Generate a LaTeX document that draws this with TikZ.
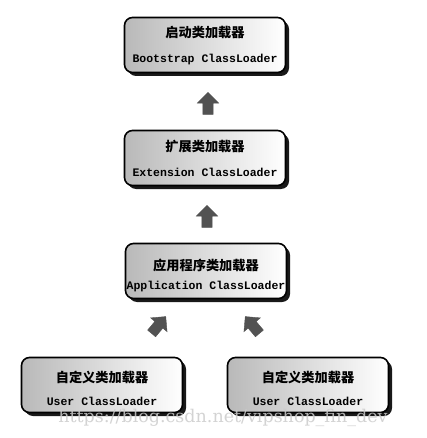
\documentclass[tikz,border=0pt]{standalone}
\usepackage{fontspec}
\newfontfamily\cjk{Noto Sans CJK SC}
\setmonofont{Liberation Mono}
\newfontfamily\wmfont{DejaVu Serif}
\usetikzlibrary{shapes.arrows,shadows}
\begin{document}
\begin{tikzpicture}[x=1pt,y=-1pt,
  loader/.style={draw=black, line width=1.6pt, rounded corners=8pt,
    left color=gray!55, right color=white,
    minimum width=161pt, minimum height=55pt,
    drop shadow={shadow xshift=3.5pt, shadow yshift=-3.5pt, fill=black, opacity=0.9}},
  cn/.style={font=\cjk\bfseries\fontsize{13.2}{14}\selectfont, inner sep=0pt},
  en/.style={font=\ttfamily\bfseries\fontsize{11.5}{12}\selectfont, inner sep=0pt},
  blockarrow/.style={single arrow, fill=black!68, draw=black!68, inner sep=0pt,
    minimum height=22pt, single arrow head extend=5.5pt,
    single arrow head indent=0pt}]
\useasboundingbox (0,0) rectangle (427,438);
\fill[white] (0,0) rectangle (427,438);

\node[loader] (boot) at (205,45) {};
\node[cn] (bootcn) at (205,33) {启动类加载器};
\node[en] (booten) at (205,60) {Bootstrap ClassLoader};

\node[loader] (ext) at (205,158) {};
\node[cn] (extcn) at (205,147) {扩展类加载器};
\node[en] (exten) at (205,172) {Extension ClassLoader};

\node[loader] (app) at (206,271) {};
\node[cn] (appcn) at (206,265) {应用程序类加载器};
\node[en] (appen) at (206,287) {Application ClassLoader};

\node[loader] (user1) at (102,385) {};
\node[cn] (user1cn) at (102,377) {自定义类加载器};
\node[en] (user1en) at (102,401) {User ClassLoader};

\node[loader] (user2) at (308,385) {};
\node[cn] (user2cn) at (308,377) {自定义类加载器};
\node[en] (user2en) at (308,401) {User ClassLoader};

\node[blockarrow, rotate=90] (a1) at (208,106) {\rule{0pt}{10pt}};
\node[blockarrow, rotate=90] (a2) at (207,219) {\rule{0pt}{10pt}};
\node[blockarrow, rotate=50] (a3) at (157,327) {\rule{0pt}{10pt}};
\node[blockarrow, rotate=130] (a4) at (254,327) {\rule{0pt}{10pt}};

\node[font=\wmfont\fontsize{17.5}{18}\selectfont, text=gray!40, opacity=0.85, inner sep=0pt] (wm) at (223,418) {https://blog.csdn.net/vipshop\_fin\_dev};
\end{tikzpicture}
\end{document}
